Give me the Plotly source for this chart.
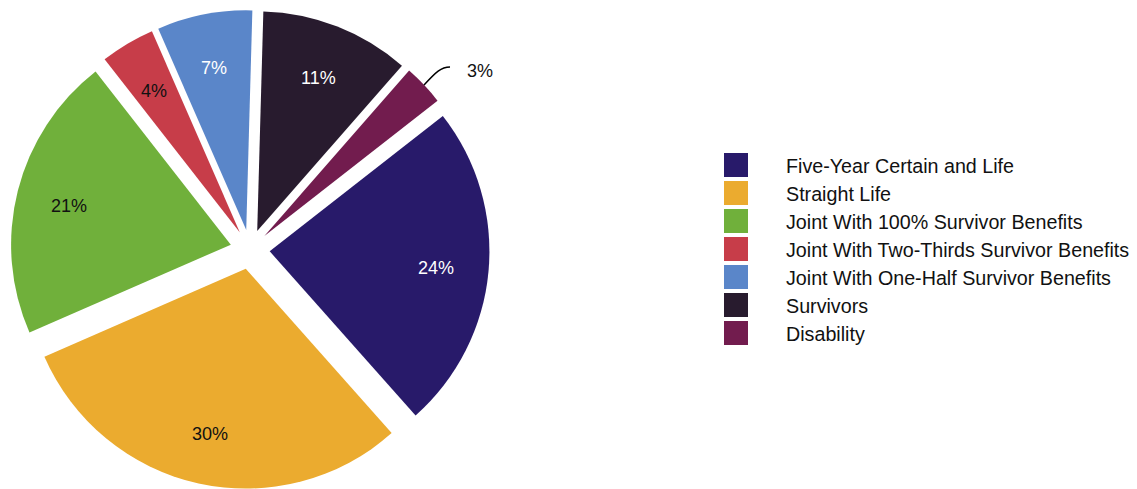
import math
import plotly.graph_objects as go

# Annuity option mix
categories = [
    "Five-Year Certain and Life",
    "Straight Life",
    "Joint With 100% Survivor Benefits",
    "Joint With Two-Thirds Survivor Benefits",
    "Joint With One-Half Survivor Benefits",
    "Survivors",
    "Disability",
]
shares = [24, 30, 21, 4, 7, 11, 3]
colors = ["#281a6a", "#ebab2f", "#70b03b", "#c73d49", "#5a86c9", "#281b2e", "#721c4e"]
label_colors = ["#ffffff", "#111111", "#111111", "#111111", "#ffffff", "#ffffff", "#111111"]
outside_label = [False, False, False, False, False, False, True]

W, H = 1137, 489
ML, MR, MT, MB = 0, 0, 10, 0
PW, PH = W - ML - MR, H - MT - MB

ROTATION = 52
PULL = 0.09
PIE_RIGHT = 500  # right edge of the pie's domain, px


def px_x(x):
    return (x - ML) / PW


def px_y(y):
    return 1 - (y - MT) / PH


# Pie geometry as plotly lays it out inside its domain
dom_w, dom_h = PIE_RIGHT - ML, PH
cx, cy = ML + dom_w / 2, MT + dom_h / 2
radius = min(dom_w, dom_h) / (2 * (1 + PULL))
total = sum(shares)


def mid_angle(i):
    before = sum(shares[:i])
    return math.radians(ROTATION + 360 * (before + shares[i] / 2) / total)


def polar(angle, dist):
    return cx + dist * math.sin(angle), cy - dist * math.cos(angle)


fig = go.Figure(
    go.Pie(
        labels=categories,
        values=shares,
        sort=False,
        direction="clockwise",
        rotation=ROTATION,
        pull=PULL,
        marker=dict(colors=colors, line=dict(width=0)),
        textinfo="none",
        domain=dict(x=[0, px_x(PIE_RIGHT)], y=[0, 1]),
        showlegend=False,
        hoverinfo="label+percent",
    )
)

shapes, annotations = [], []
label_font = "Liberation Sans, Arial"

# Percentage labels on each slice
for i, (val, col) in enumerate(zip(shares, label_colors)):
    a = mid_angle(i)
    if outside_label[i]:
        # leader from the slice's outer edge out to the label
        x0, y0 = polar(a, radius * (1 + PULL))
        pts = [(x0, y0), (x0 + 12, y0 - 13), (x0 + 17, y0 - 18), (x0 + 26, y0 - 18)]
        path = "M{},{} C{},{} {},{} {},{}".format(
            *[v for p in pts for v in (px_x(p[0]), px_y(p[1]))]
        )
        shapes.append(dict(type="path", xref="paper", yref="paper", path=path,
                           line=dict(color="#000000", width=1.5)))
        tx, ty = x0 + 56, y0 - 14
    else:
        tx, ty = polar(a, radius * (PULL + 0.76))
        ty += 2
    annotations.append(dict(
        text=f"{val}%", xref="paper", yref="paper",
        x=px_x(tx), y=px_y(ty), xanchor="center", yanchor="middle",
        showarrow=False, font=dict(size=18, color=col, family=label_font),
    ))

# Legend drawn as swatches and labels, one row per category
for i, (name, col) in enumerate(zip(categories, colors)):
    top = 153 + 28 * i
    shapes.append(dict(
        type="rect", xref="paper", yref="paper",
        x0=px_x(724), x1=px_x(748), y0=px_y(top + 24), y1=px_y(top),
        fillcolor=col, line=dict(width=0),
    ))
    annotations.append(dict(
        text=name, xref="paper", yref="paper",
        x=px_x(784), y=px_y(top + 13), xanchor="left", yanchor="middle",
        showarrow=False,
        font=dict(size=19.7, color="#111111", family=label_font),
    ))

fig.update_layout(
    width=W, height=H,
    margin=dict(l=ML, r=MR, t=MT, b=MB),
    paper_bgcolor="white", plot_bgcolor="white",
    shapes=shapes, annotations=annotations,
)

fig.write_html("out.html")
